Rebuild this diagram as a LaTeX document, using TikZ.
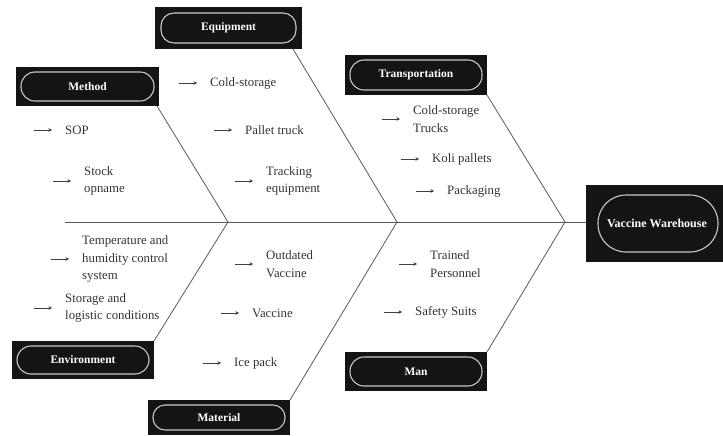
\documentclass[tikz,border=0pt]{standalone}
\usepackage{fontspec}
\setmainfont{Liberation Serif}
\usetikzlibrary{arrows.meta,calc}
\tikzset{
  outerbox/.style={fill=black!92, draw=none},
  innerpill/.style={draw=white!78!black, line width=1.1pt},
  lbl/.style={text=white, font=\fontsize{11.5}{13}\selectfont\bfseries, inner sep=0pt},
  bone/.style={draw=black!65, line width=0.8pt},
  item/.style={anchor=west, inner sep=0pt, align=left, text=black!80, font=\fontsize{12.8}{17.5}\selectfont},
  itemarrow/.style={draw=black!75, line width=0.7pt, -{Stealth[length=3.5pt,width=3.5pt]}}
}
% \catbox{name}{x1}{y1}{x2}{y2}{inset}{radius}{text}
\newcommand\catbox[8]{%
  \path[outerbox] (#2,#3) rectangle (#4,#5);
  \draw[innerpill, rounded corners=#7] ($(#2,#3)+(#6,#6)$) rectangle ($(#4,#5)+(-#6,-#6)$);
  \node[lbl] (#1) at ($(#2,#3)!0.5!(#4,#5)$) {#8};
  \coordinate (#1-nw) at (#2,#3);
  \coordinate (#1-ne) at (#4,#3);
  \coordinate (#1-sw) at (#2,#5);
  \coordinate (#1-se) at (#4,#5);
}
\newcommand\itm[4]{%
  \node[item] (#1) at (#2,#3) {#4};
  \draw[itemarrow] ([xshift=-31pt]#1.west) -- ([xshift=-13pt]#1.west);
}
\begin{document}
\begin{tikzpicture}[x=1pt,y=-1pt]
\useasboundingbox (0,0) rectangle (723,436);

% category boxes
\catbox{equip}{155}{7}{302}{49}{6}{13}{Equipment}
\catbox{method}{16}{67}{159}{106}{5}{14}{Method}
\catbox{trans}{345}{55}{487}{95}{5}{14}{Transportation}
\catbox{env}{12}{341}{154}{379}{5}{14}{Environment}
\catbox{mat}{148}{400}{290}{435}{5}{12}{Material}
\catbox{man}{345}{352}{487}{391}{5}{14}{Man}
% effect box
\path[outerbox] (586,185) rectangle (723,262);
\draw[innerpill, rounded corners=28] (598,195) rectangle (718,252);
\node[lbl, font=\fontsize{12}{14}\selectfont\bfseries] (vw) at (657,223.5) {Vaccine Warehouse};
\coordinate (vw-w) at (586,222);

% spine and joints
\coordinate (spstart) at (65,222);
\coordinate (j1) at (228,222);
\coordinate (j2) at (397,222);
\coordinate (j3) at (565,222);
\draw[bone] (spstart) -- (vw-w);

% bones
\draw[bone] ([xshift=-2pt]method-se) -- (j1);
\draw[bone] (env-ne) -- (j1);
\draw[bone] ([xshift=-9pt]equip-se) -- (j2);
\draw[bone] (mat-ne) -- (j2);
\draw[bone] (trans-se) -- (j3);
\draw[bone] (man-ne) -- (j3);

% Method items
\itm{sop}{65}{130}{SOP}
\itm{stock}{84}{181}{Stock\\opname}
% Equipment items
\itm{cold}{210}{83}{Cold-storage}
\itm{pallet}{245}{130}{Pallet truck}
\itm{track}{266}{181}{Tracking\\equipment}
% Transportation items
\itm{cst}{413}{119}{Cold-storage\\Trucks}
\itm{koli}{432}{159}{Koli pallets}
\itm{pack}{447}{191}{Packaging}
% Environment items
\itm{temp}{82}{259}{Temperature and\\humidity control\\system}
\itm{stor}{65}{308}{Storage and\\logistic conditions}
% Material items
\itm{outd}{266}{264}{Outdated\\Vaccine}
\itm{vacc}{252}{313}{Vaccine}
\itm{ice}{234}{363}{Ice pack}
% Man items
\itm{trained}{430}{264}{Trained\\Personnel}
\itm{safety}{415}{312}{Safety Suits}
\end{tikzpicture}
\end{document}
